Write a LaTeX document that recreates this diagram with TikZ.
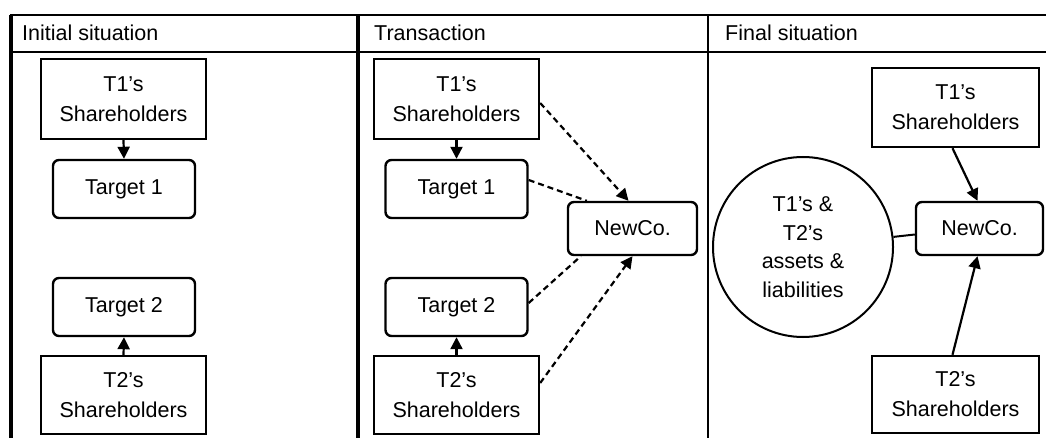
\documentclass[tikz,border=0pt]{standalone}
\usepackage{fontspec}
\setmainfont{Liberation Sans}
\usetikzlibrary{arrows.meta,calc}
\begin{document}
\begin{tikzpicture}[x=1pt,y=-1pt,
  every node/.style={font=\fontsize{21.5}{30}\selectfont},
  sqbox/.style={draw,line width=2.4pt,align=center,inner sep=0pt},
  rdbox/.style={draw,line width=2.4pt,rounded corners=6pt,align=center,inner sep=0pt},
  frame/.style={line width=2pt},
  sep/.style={line width=3.2pt},
  arr/.style={line width=2.2pt,-{Triangle[length=12pt,width=12pt]}},
  darr/.style={line width=2.2pt,dash pattern=on 6pt off 4pt,-{Triangle[length=12pt,width=12pt]}},
  dline/.style={line width=2.2pt,dash pattern=on 6pt off 4pt},
  hdr/.style={anchor=west,inner sep=0pt}
]
\useasboundingbox (0,0) rectangle (1046,438);
% frame
\coordinate (tl) at (10,15);
\coordinate (tr) at (1046,15);
\coordinate (hl) at (10,52);
\coordinate (hr) at (1046,52);
\draw[frame] (tl) -- (tr);
\draw[frame] (hl) -- (hr);
\draw[sep] (11,15) -- (11,438);
\draw[sep] (358,15) -- (358,438);
\draw[line width=2.2pt] (708,15) -- (708,438);
% headers
\node[hdr] (h1) at (22,33) {Initial situation};
\node[hdr] (h2) at (374,33) {Transaction};
\node[hdr] (h3) at (725,33) {Final situation};
% left column
\node[sqbox,minimum width=165pt,minimum height=80pt] (lS1) at (123.5,99) {T1's\\Shareholders};
\node[rdbox,minimum width=142pt,minimum height=58pt] (lT1) at (124,189) {Target 1};
\node[rdbox,minimum width=142pt,minimum height=58pt] (lT2) at (124,307) {Target 2};
\node[sqbox,minimum width=165pt,minimum height=78pt] (lS2) at (123.5,395) {T2's\\Shareholders};
\draw[arr] (lS1.south) -- (lT1.north);
\draw[arr] (lS2.north) -- (lT2.south);
% middle column
\node[sqbox,minimum width=165pt,minimum height=80pt] (mS1) at (456.5,99) {T1's\\Shareholders};
\node[rdbox,minimum width=142pt,minimum height=58pt] (mT1) at (456.5,189) {Target 1};
\node[rdbox,minimum width=142pt,minimum height=58pt] (mT2) at (456.5,307) {Target 2};
\node[sqbox,minimum width=165pt,minimum height=78pt] (mS2) at (456.5,395) {T2's\\Shareholders};
\node[rdbox,minimum width=129pt,minimum height=53pt] (mN) at (632.5,228.5) {NewCo.};
\draw[arr] (mS1.south) -- (mT1.north);
\draw[arr] (mS2.north) -- (mT2.south);
\draw[darr] ($(mS1.east)+(0,4)$) -- ($(mN.north)+(-4,0)$);
\draw[dline] ($(mT1.east)+(0,-9)$) -- ($(mN.north west)+(20,0)$);
\draw[dline] ($(mT2.east)+(0,-4)$) -- ($(mN.south west)+(14,0)$);
\draw[darr] ($(mS2.east)+(0,-12)$) -- (mN.south);
% right column
\node[sqbox,minimum width=167pt,minimum height=79pt] (rS1) at (955.5,107.5) {T1's\\Shareholders};
\node[rdbox,minimum width=127pt,minimum height=53pt] (rN) at (979.5,228.5) {NewCo.};
\node[sqbox,minimum width=167pt,minimum height=77pt] (rS2) at (955.5,394.5) {T2's\\Shareholders};
\node[draw,circle,line width=2pt,minimum size=180pt,align=center,inner sep=0pt,font=\fontsize{21.5}{28.5}\selectfont] (rC) at (803,247) {T1's \&\\T2's\\assets \&\\liabilities};
\draw[arr] ($(rS1.south)+(-3,0)$) -- ($(rN.north)+(-2,0)$);
\draw[arr] ($(rS2.north)+(-3,0)$) -- ($(rN.south)+(-2,0)$);
\draw[line width=2pt] ($(rN.west)+(0,6)$) -- (rC);
\end{tikzpicture}
\end{document}
